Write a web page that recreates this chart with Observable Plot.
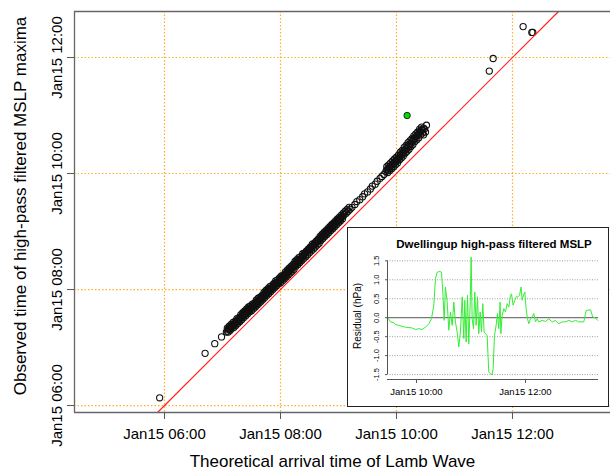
<!DOCTYPE html>
<html><head><meta charset="utf-8">
<script src="https://cdn.jsdelivr.net/npm/d3@7"></script>
<script src="https://cdn.jsdelivr.net/npm/@observablehq/plot@0.6"></script>
<style>
body{margin:0;background:#fff;}
#wrap{position:relative;width:610px;height:471px;font-family:"Liberation Sans",Arial,Helvetica,sans-serif;}
#inset{position:absolute;left:347px;top:227px;width:260px;height:178px;border:1.5px solid #222;background:#fff;}
</style></head><body><div id="wrap"><div id="inset"></div></div>
<script>
// ---------- data ----------
const day = "2022-01-15";
const xTickTimes = ["06:00","08:00","10:00","12:00"];
const yTickTimes = ["06:00","08:00","10:00","12:00"];
const xDomainTimes = ["04:26:54","13:41:24"];
const yDomainTimes = ["05:52:48","12:47:36"];
const xTitle = "Theoretical arrival time of Lamb Wave";
const yTitle = "Observed time of high-pass filtered MSLP maxima";

// station maxima: theoretical arrival (x) vs observed maximum (y)
const lambArrival = [
"05:55","06:42","06:52","06:59",
"07:04","07:05","07:06","07:07","07:08","07:09","07:10","07:11","07:12","07:13","07:14","07:15","07:16","07:17","07:18","07:19",
"07:20","07:21","07:22","07:23","07:24","07:25","07:26","07:27","07:28","07:29","07:30","07:31","07:32","07:33","07:34","07:35",
"07:36","07:37","07:38","07:39","07:40","07:41","07:42","07:43","07:44","07:45","07:46","07:47","07:48","07:49","07:50","07:51",
"07:52","07:53","07:54","07:55","07:56","07:57","07:58","07:59","08:00","08:01","08:02","08:03","08:04","08:05","08:06","08:07",
"08:08","08:09","08:10","08:11","08:12","08:13","08:14","08:15","08:16","08:17","08:18","08:19","08:20","08:21",
"08:23","08:24","08:26","08:27","08:29","08:30","08:32","08:33","08:35","08:36","08:38","08:39","08:41","08:42","08:44","08:45",
"08:47","08:48","08:50","08:51","08:53","08:54","08:56","08:57","08:59","09:00","09:02","09:03","09:05","09:06","09:08","09:10",
"09:12","09:14",
"09:17","09:19","09:22","09:25","09:27","09:30","09:33","09:35","09:38","09:40","09:43","09:45","09:47",
"09:49","09:50","09:51","09:52","09:53","09:54","09:55","09:56","09:57","09:58","09:59","10:00","10:01","10:02","10:03","10:04",
"10:05","10:06","10:07","10:08","10:09","10:10","10:11","10:12","10:13","10:14","10:15","10:16","10:17","10:18","10:19","10:20",
"10:21","10:22","10:23","10:24","10:25","10:26","10:27","10:28","10:29","10:31","10:30","10:28",
"11:36","11:40","12:11","12:20","12:21"];
const observedMaxima = [
"06:08","06:54","07:04","07:11",
"07:16","07:17","07:19","07:19","07:20","07:21","07:22","07:23","07:24","07:24","07:26","07:27","07:28","07:28","07:30","07:31",
"07:31","07:33","07:33","07:35","07:35","07:37","07:37","07:39","07:39","07:40","07:41","07:42","07:43","07:43","07:45","07:46",
"07:46","07:48","07:49","07:49","07:51","07:51","07:53","07:54","07:54","07:56","07:56","07:58","07:58","08:00","08:01","08:01",
"08:03","08:03","08:04","08:06","08:06","08:07","08:08","08:09","08:10","08:11","08:12","08:12","08:14","08:15","08:15","08:17",
"08:18","08:19","08:20","08:21","08:22","08:23","08:24","08:26","08:26","08:28","08:28","08:30","08:31","08:31",
"08:34","08:35","08:36","08:39","08:40","08:41","08:43","08:45","08:46","08:47","08:50","08:50","08:52","08:54","08:55","08:57",
"08:58","09:00","09:01","09:03","09:04","09:06","09:07","09:09","09:10","09:12","09:13","09:15","09:16","09:18","09:19","09:21",
"09:23","09:25",
"09:28","09:31","09:33","09:36","09:39","09:41","09:44","09:47","09:49","09:52","09:55","09:57","09:59",
"10:02","10:04","10:03","10:06","10:05","10:08","10:07","10:10","10:10","10:12","10:12","10:14","10:14","10:16","10:17","10:19",
"10:19","10:21","10:21","10:24","10:24","10:26","10:26","10:29","10:28","10:31","10:31","10:33","10:34","10:36","10:36","10:38",
"10:39","10:40","10:41","10:43","10:43","10:45","10:45","10:47","10:46","10:50","10:43","10:40",
"11:46","11:59","12:32","12:26","12:26"];

// stations on the upper side of the band
const lambArrivalUpper = [
"07:05","07:07","07:09","07:11","07:13","07:15","07:17","07:19","07:21","07:23","07:25","07:27","07:29","07:31","07:33","07:35",
"07:37","07:39","07:41","07:43","07:45","07:47","07:49","07:51","07:53","07:55","07:57","07:59","08:01","08:03","08:05","08:07",
"08:09","08:11","08:13","08:15","08:17","08:19","08:21","08:23","08:25","08:27","08:29","08:31","08:33","08:35","08:37","08:39",
"08:41","08:43","08:45","08:47","08:49","08:51","08:53","08:55","08:57","08:59","09:01","09:03","09:05","09:07","09:09","09:11",
"09:50","09:52","09:54","09:56","09:58","10:00","10:02","10:04","10:06","10:08","10:10","10:12","10:14","10:16","10:18","10:20",
"10:22","10:24","10:26"];
const observedMaximaUpper = [
"07:20","07:22","07:24","07:26","07:27","07:30","07:31","07:34","07:36","07:38","07:40","07:42","07:43","07:45","07:46","07:49",
"07:51","07:52","07:54","07:57","07:59","08:01","08:03","08:04","08:06","08:09","08:10","08:12","08:14","08:15","08:18","08:20",
"08:22","08:24","08:26","08:29","08:31","08:33","08:34","08:37","08:38","08:40","08:42","08:44","08:47","08:48","08:50","08:52",
"08:55","08:57","08:59","09:01","09:03","09:05","09:07","09:09","09:11","09:13","09:15","09:17","09:19","09:21","09:23","09:25",
"10:07","10:09","10:11","10:13","10:15","10:17","10:19","10:22","10:24","10:27","10:29","10:32","10:34","10:36","10:39","10:41",
"10:43","10:46","10:48"];

// stations in the middle of the band
const lambArrivalMiddle = [
"07:09","07:11","07:13","07:15","07:17","07:19","07:21","07:23","07:25","07:27","07:29","07:31","07:33","07:35","07:37","07:39",
"07:41","07:43","07:45","07:47","07:49","07:51","07:53","07:55","07:57","07:59","08:01","08:03","08:05","08:07","08:09","08:11",
"08:13","08:15","08:17","08:19","08:21","08:23","08:25","08:27","08:29","08:31","08:33","08:35","08:37","08:39","08:41","08:43",
"08:45","08:47","08:49","08:51","08:53","08:55","08:57","08:59","09:01","09:03"];
const observedMaximaMiddle = [
"07:22","07:24","07:25","07:28","07:29","07:32","07:34","07:36","07:38","07:40","07:41","07:43","07:44","07:47","07:49","07:50",
"07:52","07:55","07:57","07:59","08:01","08:02","08:04","08:07","08:08","08:10","08:12","08:13","08:16","08:18","08:20","08:22",
"08:24","08:27","08:29","08:31","08:32","08:35","08:37","08:39","08:41","08:43","08:45","08:47","08:49","08:51","08:53","08:55",
"08:57","08:59","09:01","09:03","09:05","09:07","09:09","09:11","09:13","09:15"];

// stations on the lower side of the band
const lambArrivalLower = [
"07:06","07:08","07:10","07:12","07:14","07:16","07:18","07:20","07:22","07:24","07:26","07:28","07:30","07:32","07:34","07:36",
"07:38","07:40","07:42","07:44","07:46","07:48","07:50","07:52","07:54","07:56","07:58","08:00","08:02","08:04","08:06","08:08",
"08:10","08:12","08:14","08:16","08:18","08:20","08:22","08:24","08:26","08:28","08:30","08:32","08:34","08:36","08:38","08:40",
"08:42","08:44","08:46","08:48","08:50","08:52","08:54","08:56","08:58","09:00","09:02","09:04",
"09:51","09:53","09:55","09:57","09:59","10:01","10:03","10:05","10:07","10:09","10:11","10:13","10:15","10:17","10:19","10:21",
"10:23","10:25","10:27"];
const observedMaximaLower = [
"07:16","07:18","07:20","07:21","07:23","07:25","07:27","07:29","07:31","07:33","07:35","07:37","07:38","07:40","07:42","07:44",
"07:46","07:48","07:50","07:52","07:54","07:56","07:58","08:00","08:02","08:04","08:06","08:07","08:09","08:11","08:13","08:15",
"08:17","08:19","08:21","08:24","08:26","08:28","08:30","08:32","08:34","08:36","08:38","08:40","08:42","08:44","08:46","08:48",
"08:51","08:53","08:55","08:57","08:59","09:01","09:03","09:05","09:07","09:09","09:11","09:13",
"10:01","10:03","10:05","10:07","10:09","10:11","10:14","10:16","10:18","10:21","10:23","10:25","10:28","10:30","10:33","10:35",
"10:37","10:40","10:42"];

// Dwellingup station (highlighted)
const highlightLamb = ["10:11"];
const highlightObserved = ["11:00"];

// inset
const insetTitle = "Dwellingup high-pass filtered MSLP";
const insetYLabel = "Residual (hPa)";
const insetXTicks = ["10:00","12:00"];
const insetYTicks = [-1.5,-1.0,-0.5,0.0,0.5,1.0,1.5];
const insetXDomain = ["09:28:06","13:20:24"];
const insetYDomain = [-1.63, 1.72];
const insetMinutesFromTen = [-31.6,-28.6,-25.0,-23.1,-19.5,-15.8,-12.1,-8.4,-4.8,-1.1,
2.6,6.2,9.9,13.6,16.5,19.1,20.9,22.8,25.7,27.5,
29.0,30.5,31.9,33.8,35.6,37.4,39.3,41.1,42.9,44.8,
46.6,48.4,50.3,52.1,53.2,54.7,56.2,57.6,59.1,60.2,
61.3,62.8,64.2,65.7,67.2,68.6,70.1,71.6,73.0,74.5,
76.0,77.8,79.6,81.5,83.3,84.4,85.9,87.7,89.2,90.6,
92.1,92.9,94.3,96.2,98.0,99.8,101.7,103.5,104.6,106.4,
108.3,109.7,111.6,113.4,115.2,116.3,118.2,119.3,120.7,122.2,
123.7,125.5,127.3,129.2,131.0,132.9,134.7,138.4,142.0,145.7,
149.4,153.0,156.7,160.4,164.0,167.7,171.4,175.1,178.7,184.2,
186.8,191.6,194.1,197.1,199.6];
const insetResidual = [0.00,-0.11,-0.13,-0.18,-0.20,-0.23,-0.25,-0.26,-0.27,-0.31,
-0.29,-0.31,-0.25,-0.16,-0.03,0.33,1.03,1.20,1.22,1.20,
0.68,-0.07,0.81,0.41,-0.33,0.15,-0.20,0.41,-0.11,-0.38,
-0.77,-0.38,0.55,-0.55,0.46,-0.64,0.59,-0.69,0.33,1.60,
-0.03,-0.29,0.68,-0.20,0.55,-0.42,0.15,-0.38,0.37,-0.38,
-0.42,-0.47,-1.43,-1.48,-1.50,-1.35,-0.47,-0.20,0.11,-0.29,
0.41,-0.42,0.06,0.24,0.15,0.37,0.28,0.59,0.63,0.33,
0.46,0.55,0.55,0.59,0.81,0.46,0.63,0.68,0.24,-0.03,
-0.16,-0.03,0.02,0.11,-0.11,-0.03,-0.11,-0.07,-0.10,-0.03,
-0.11,-0.07,-0.16,-0.11,-0.11,-0.07,-0.11,-0.07,-0.11,-0.11,
0.19,0.21,0.02,-0.01,-0.07];

// ---------- helpers ----------
const T = s => new Date(`${day}T${s.length === 5 ? s + ":00" : s}Z`);
const fmt = d3.utcFormat("%b%d %H:%M");
const font = '"Liberation Sans", Arial, Helvetica, sans-serif';

const xTicks = xTickTimes.map(T), yTicks = yTickTimes.map(T);
const xDom = xDomainTimes.map(T), yDom = yDomainTimes.map(T);
const toPts = (xs, ys) => xs.map((x, i) => ({x: T(x), y: T(ys[i])}));
const pts = [
  ...toPts(lambArrival, observedMaxima),
  ...toPts(lambArrivalUpper, observedMaximaUpper),
  ...toPts(lambArrivalMiddle, observedMaximaMiddle),
  ...toPts(lambArrivalLower, observedMaximaLower)
];
const hi = toPts(highlightLamb, highlightObserved);
// 1:1 reference line, spanning the visible y range
const oneToOne = [{t0: yDom[0], t1: yDom[1]}];
const gridStyle = {stroke: "#ffa000", strokeOpacity: 0.85, strokeDasharray: "1.5,2", strokeWidth: 1.2};

const main = Plot.plot({
  width: 610, height: 471,
  marginLeft: 74, marginTop: 11, marginBottom: 59, marginRight: 0,
  style: {fontFamily: font, fontSize: "15px", background: "white", color: "black", overflow: "visible"},
  x: {type: "utc", domain: xDom, axis: null},
  y: {type: "utc", domain: yDom, axis: null},
  marks: [
    Plot.gridX(xTicks, gridStyle),
    Plot.gridY(yTicks, gridStyle),
    Plot.dot(pts, {x: "x", y: "y", r: 3.1, stroke: "#111", strokeWidth: 1.1, fill: "none", clip: true}),
    Plot.link(oneToOne, {x1: "t0", y1: "t0", x2: "t1", y2: "t1", stroke: "#ff2020", strokeWidth: 1.2}),
    Plot.dot(hi, {x: "x", y: "y", r: 3.2, stroke: "#222", strokeWidth: 1, fill: "#00dd00"}),
    Plot.ruleX([xDom[0]], {stroke: "#666", strokeWidth: 1.3}),
    Plot.ruleY([yDom[0]], {stroke: "#666", strokeWidth: 1.3}),
    Plot.ruleY([yDom[1]], {stroke: "#666", strokeWidth: 1.3}),
    Plot.axisX(xTicks, {tickSize: 7, tickPadding: 9, tickFormat: fmt, fontSize: 15, stroke: "#555", label: null}),
    Plot.axisY(yTicks, {tickSize: 7, tickFormat: () => "", stroke: "#555", label: null}),
    Plot.text(yTicks, {y: d => d, text: d => fmt(d), frameAnchor: "left", textAnchor: "middle", dx: -13, rotate: -90, lineAnchor: "bottom", fontSize: 15, fill: "black"}),
    Plot.text([xTitle], {frameAnchor: "bottom", dx: -10, dy: 54, lineAnchor: "bottom", fontSize: 17, fill: "black"}),
    Plot.text([yTitle], {frameAnchor: "left", textAnchor: "middle", dx: -49, dy: -6, rotate: -90, lineAnchor: "bottom", fontSize: 17, fill: "black"})
  ]
});
document.getElementById("wrap").insertBefore(main, document.getElementById("inset"));

// ---------- inset ----------
const ten = T("10:00");
const series = insetMinutesFromTen.map((m, i) => ({t: new Date(+ten + m * 60000), v: insetResidual[i]}));
const ixDom = insetXDomain.map(T);
const ixTicks = insetXTicks.map(T);
const inset = Plot.plot({
  width: 260, height: 178,
  marginLeft: 39, marginRight: 10, marginTop: 24, marginBottom: 27,
  style: {fontFamily: font, fontSize: "9.5px", background: "white", color: "black", overflow: "visible"},
  x: {type: "utc", domain: ixDom, axis: null},
  y: {domain: insetYDomain, axis: null},
  marks: [
    Plot.gridY(insetYTicks.filter(v => v !== 0), {stroke: "#888", strokeOpacity: 1, strokeDasharray: "1,1.5", strokeWidth: 0.8}),
    Plot.ruleY([0], {stroke: "#777", strokeWidth: 1.3}),
    Plot.line(series, {x: "t", y: "v", stroke: "#33ee33", strokeWidth: 1}),
    Plot.ruleX([ixDom[0]], {y1: insetYTicks[0], y2: insetYTicks[insetYTicks.length - 1], stroke: "#555", strokeWidth: 1}),
    Plot.ruleY([insetYDomain[0]], {stroke: "#555", strokeWidth: 1}),
    Plot.axisX(ixTicks, {tickSize: 4, tickPadding: 5, tickFormat: fmt, fontSize: 9.5, stroke: "#555", label: null}),
    Plot.axisY(insetYTicks, {tickSize: 2, tickFormat: () => "", stroke: "#555", label: null}),
    Plot.text(insetYTicks, {y: d => d, text: d => d.toFixed(1), frameAnchor: "left", textAnchor: "middle", dx: -9, rotate: -90, lineAnchor: "bottom", fontSize: 7.5, fill: "black"}),
    Plot.text([insetTitle], {frameAnchor: "top", dx: 1, dy: -4.5, lineAnchor: "bottom", fontSize: 11.5, fontWeight: "bold", fill: "black"}),
    Plot.text([insetYLabel], {frameAnchor: "left", textAnchor: "middle", dx: -27, rotate: -90, lineAnchor: "bottom", fontSize: 10, fill: "black"})
  ]
});
document.getElementById("inset").appendChild(inset);
</script></body></html>
